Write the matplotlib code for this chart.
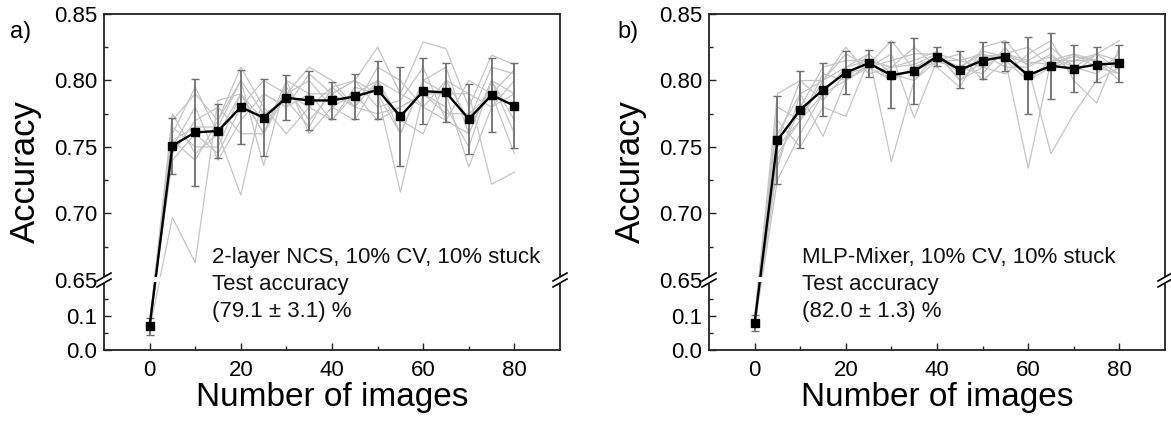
import numpy as np
import matplotlib
matplotlib.use('Agg')
import matplotlib.pyplot as plt
from matplotlib.scale import FuncScale
from matplotlib.ticker import FixedLocator, FixedFormatter

plt.rcParams['font.family'] = ['Liberation Sans', 'DejaVu Sans']

# Number of images (x axis)
images = [0, 5, 10, 15, 20, 25, 30, 35, 40, 45, 50, 55, 60, 65, 70, 75, 80]

# Panel a: 2-layer NCS, mean and std over runs
mean_a = [0.070, 0.751, 0.761, 0.762, 0.780, 0.772, 0.787, 0.785, 0.785,
          0.788, 0.793, 0.773, 0.792, 0.791, 0.771, 0.789, 0.781]
err_a = [0.025, 0.021, 0.040, 0.020, 0.028, 0.029, 0.017, 0.022, 0.014,
         0.017, 0.022, 0.037, 0.025, 0.022, 0.026, 0.028, 0.032]

# Panel a: individual runs (grey)
runs_a = [
    [0.06, 0.697, 0.663, 0.785, 0.790, 0.760, 0.795, 0.770, 0.790, 0.780, 0.800, 0.760, 0.800, 0.810, 0.760, 0.800, 0.770],
    [0.08, 0.760, 0.795, 0.760, 0.714, 0.790, 0.780, 0.805, 0.790, 0.800, 0.825, 0.790, 0.829, 0.824, 0.780, 0.819, 0.812],
    [0.07, 0.770, 0.790, 0.770, 0.800, 0.736, 0.800, 0.790, 0.770, 0.795, 0.790, 0.716, 0.790, 0.790, 0.735, 0.780, 0.790],
    [0.09, 0.740, 0.760, 0.745, 0.780, 0.800, 0.790, 0.810, 0.800, 0.780, 0.810, 0.800, 0.780, 0.800, 0.790, 0.722, 0.731],
    [0.05, 0.755, 0.740, 0.770, 0.810, 0.780, 0.760, 0.780, 0.795, 0.800, 0.780, 0.785, 0.810, 0.770, 0.800, 0.790, 0.808],
    [0.07, 0.745, 0.770, 0.780, 0.760, 0.760, 0.800, 0.760, 0.780, 0.770, 0.800, 0.770, 0.760, 0.800, 0.770, 0.810, 0.805],
    [0.06, 0.765, 0.750, 0.750, 0.790, 0.770, 0.790, 0.800, 0.780, 0.790, 0.770, 0.780, 0.790, 0.780, 0.750, 0.800, 0.760],
    [0.08, 0.750, 0.780, 0.740, 0.770, 0.790, 0.780, 0.790, 0.790, 0.800, 0.790, 0.760, 0.800, 0.790, 0.790, 0.780, 0.800],
    [0.07, 0.775, 0.745, 0.760, 0.790, 0.760, 0.790, 0.780, 0.770, 0.790, 0.800, 0.790, 0.780, 0.770, 0.760, 0.800, 0.790],
    [0.08, 0.755, 0.765, 0.765, 0.800, 0.775, 0.785, 0.765, 0.795, 0.780, 0.775, 0.780, 0.790, 0.775, 0.775, 0.790, 0.745],
]

# Panel b: MLP-Mixer
mean_b = [0.079, 0.755, 0.778, 0.793, 0.806, 0.813, 0.804, 0.807, 0.818,
          0.808, 0.815, 0.818, 0.804, 0.811, 0.809, 0.812, 0.813]
err_b = [0.023, 0.033, 0.029, 0.020, 0.016, 0.010, 0.025, 0.025, 0.007,
         0.014, 0.014, 0.011, 0.029, 0.025, 0.018, 0.013, 0.014]

runs_b = [
    [0.07, 0.725, 0.760, 0.790, 0.810, 0.820, 0.739, 0.800, 0.820, 0.800, 0.810, 0.820, 0.815, 0.825, 0.810, 0.805, 0.820],
    [0.09, 0.790, 0.800, 0.800, 0.820, 0.810, 0.820, 0.772, 0.815, 0.820, 0.800, 0.815, 0.734, 0.815, 0.820, 0.810, 0.805],
    [0.08, 0.740, 0.780, 0.810, 0.815, 0.815, 0.810, 0.825, 0.810, 0.795, 0.825, 0.830, 0.810, 0.745, 0.775, 0.800, 0.810],
    [0.06, 0.760, 0.790, 0.758, 0.800, 0.810, 0.815, 0.820, 0.820, 0.815, 0.810, 0.805, 0.820, 0.830, 0.800, 0.783, 0.825],
    [0.10, 0.770, 0.750, 0.780, 0.773, 0.815, 0.800, 0.810, 0.815, 0.810, 0.820, 0.815, 0.800, 0.810, 0.815, 0.820, 0.830],
    [0.08, 0.745, 0.770, 0.800, 0.825, 0.805, 0.810, 0.815, 0.822, 0.800, 0.815, 0.820, 0.825, 0.810, 0.820, 0.815, 0.800],
    [0.07, 0.780, 0.770, 0.790, 0.800, 0.820, 0.805, 0.800, 0.815, 0.815, 0.820, 0.810, 0.810, 0.820, 0.805, 0.820, 0.815],
    [0.09, 0.755, 0.800, 0.785, 0.805, 0.810, 0.800, 0.810, 0.818, 0.810, 0.805, 0.825, 0.800, 0.815, 0.815, 0.815, 0.810],
    [0.08, 0.735, 0.790, 0.800, 0.810, 0.815, 0.810, 0.812, 0.820, 0.805, 0.818, 0.820, 0.812, 0.818, 0.810, 0.820, 0.808],
    [0.08, 0.750, 0.770, 0.805, 0.800, 0.812, 0.830, 0.808, 0.814, 0.810, 0.822, 0.818, 0.814, 0.812, 0.818, 0.815, 0.805],
]

y_major = [0.0, 0.1, 0.65, 0.70, 0.75, 0.80, 0.85]
y_major_labels = ['0.0', '0.1', '0.65', '0.70', '0.75', '0.80', '0.85']
y_minor = [0.05, 0.15, 0.675, 0.725, 0.775, 0.825]

notes = ['2-layer NCS, 10% CV, 10% stuck\nTest accuracy\n(79.1 \u00b1 3.1) %',
         'MLP-Mixer, 10% CV, 10% stuck\nTest accuracy\n(82.0 \u00b1 1.3) %']
panel_tags = ['a)', 'b)']

# broken y axis: 0..LOW_TOP below, 0.65..0.85 above
LOW_TOP = 0.206
K = 340 / 1330.0
BREAK = 0.65


def fwd(y):
    y = np.asarray(y, dtype=float)
    return np.where(y <= LOW_TOP, y * K,
                    np.where(y < BREAK, LOW_TOP * K, LOW_TOP * K + (y - BREAK)))


def inv(u):
    u = np.asarray(u, dtype=float)
    return np.where(u <= LOW_TOP * K, u / K, BREAK + (u - LOW_TOP * K))


fig = plt.figure(figsize=(11.71, 4.25), dpi=100)
lefts = [104 / 1171, 709 / 1171]
width = 456 / 1171
bottom = 1 - 350 / 425
height = 336 / 425
tag_x = [10 / 1171, 617 / 1171]
note_x = [0.237, 0.205]

datasets = [(mean_a, err_a, runs_a), (mean_b, err_b, runs_b)]

for i, (mean, err, runs) in enumerate(datasets):
    ax = fig.add_axes([lefts[i], bottom, width, height])
    ax.set_yscale(FuncScale(ax, (fwd, inv)))

    for run in runs:
        ax.plot(images, run, color='#c4c4c4', lw=0.9, zorder=1)

    ax.errorbar(images, mean, yerr=err, fmt='none', ecolor='#6e6e6e',
                elinewidth=1.3, capsize=3, capthick=1.0, zorder=2)
    ax.plot(images, mean, color='black', lw=1.7, marker='s', ms=5.8,
            zorder=3)

    ax.set_xlim(-10, 90)
    ax.set_ylim(0.0, 0.85)
    ax.set_xticks([0, 20, 40, 60, 80])
    ax.set_xticks([10, 30, 50, 70], minor=True)
    ax.yaxis.set_major_locator(FixedLocator(y_major))
    ax.yaxis.set_major_formatter(FixedFormatter(y_major_labels))
    ax.yaxis.set_minor_locator(FixedLocator(y_minor))

    ax.tick_params(which='both', direction='in', top=False, right=False,
                   labelsize=16, width=1.0, color='#222222')
    ax.tick_params(which='major', length=5)
    ax.tick_params(which='minor', length=3)
    ax.tick_params(axis='x', pad=7)
    ax.tick_params(axis='y', pad=5)
    for sp in ax.spines.values():
        sp.set_linewidth(1.3)
        sp.set_color('#222222')

    ax.set_xlabel('Number of images', fontsize=24)
    ax.set_ylabel('Accuracy', fontsize=25)
    ax.xaxis.set_label_coords(0.5, -0.095)
    ax.yaxis.set_label_coords(-0.137, 0.53)

    # break position in axes fraction
    yb = 70 / 336
    # white gap across the plot at the break
    ax.fill_between([0, 1], [yb - 0.006, yb - 0.006], [yb + 0.010, yb + 0.010],
                    transform=ax.transAxes, color='white', lw=0, zorder=4)
    dx = 7 / 456
    dy = 4 / 336
    gap = 6 / 336
    for xs in (0, 1):
        ax.fill([xs - dx, xs + dx, xs + dx, xs - dx],
                [yb - gap / 2 - dy, yb - gap / 2 + dy, yb + gap / 2 + dy, yb + gap / 2 - dy],
                transform=ax.transAxes, color='white', lw=0, clip_on=False, zorder=5)
        for off in (-gap / 2, gap / 2):
            ax.plot([xs - dx, xs + dx], [yb + off - dy, yb + off + dy],
                    transform=ax.transAxes, color='black', lw=1.2,
                    clip_on=False, zorder=6)

    ax.text(note_x[i], 0.195, notes[i], transform=ax.transAxes, fontsize=16,
            va='center', ha='left', linespacing=1.4, color='#111111', zorder=7)

    fig.text(tag_x[i], 1 - 32 / 425, panel_tags[i], fontsize=17,
             va='center', ha='left')

fig.savefig('out.png', dpi=100)
